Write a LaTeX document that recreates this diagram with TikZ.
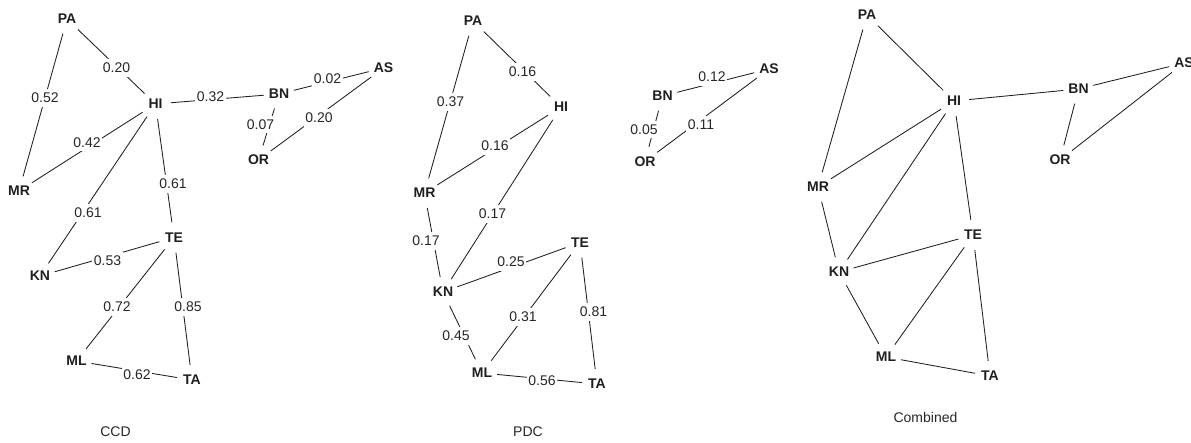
\documentclass[tikz,border=0pt]{standalone}
\usepackage{fontspec}
\setmainfont{Liberation Sans}
\begin{document}
\begin{tikzpicture}[x=1pt,y=-1pt,
  lang/.style={circle, inner sep=0pt, minimum size=30pt,
    font=\fontsize{14}{16}\selectfont\bfseries, text=black!88},
  wl/.style={rectangle, fill=white, inner xsep=1.5pt, inner ysep=4pt,
    font=\fontsize{14}{16}\selectfont, text=black!85},
  captext/.style={font=\fontsize{14}{16}\selectfont, text=black!85},
  edge/.style={draw=black!88, line width=0.85pt}]
\useasboundingbox (0,0) rectangle (1191,443);

% ---------------- CCD ----------------
\node[lang] (c-PA) at (67,19)  {PA};
\node[lang] (c-HI) at (155.5,104) {HI};
\node[lang] (c-BN) at (279,94) {BN};
\node[lang] (c-AS) at (383.5,68) {AS};
\node[lang] (c-OR) at (258.5,160) {OR};
\node[lang] (c-MR) at (19,191) {MR};
\node[lang] (c-TE) at (174,237.5) {TE};
\node[lang] (c-KN) at (40,276) {KN};
\node[lang] (c-ML) at (76.5,361) {ML};
\node[lang] (c-TA) at (192,380) {TA};
\node[captext] (c-cap) at (115.5,432) {CCD};

\draw[edge] (c-PA) -- (c-HI);
\draw[edge] (c-PA) -- (c-MR);
\draw[edge] (c-HI) -- (c-BN);
\draw[edge] (c-BN) -- (c-AS);
\draw[edge] (c-BN) -- (c-OR);
\draw[edge] (c-AS) -- (c-OR);
\draw[edge] (c-HI) -- (c-MR);
\draw[edge] (c-HI) -- (c-KN);
\draw[edge] (c-HI) -- (c-TE);
\draw[edge] (c-KN) -- (c-TE);
\draw[edge] (c-TE) -- (c-ML);
\draw[edge] (c-TE) -- (c-TA);
\draw[edge] (c-ML) -- (c-TA);

\node[wl] (c-w1) at (116.5,68) {0.20};
\node[wl] (c-w2) at (45,98) {0.52};
\node[wl] (c-w3) at (210.5,97) {0.32};
\node[wl] (c-w4) at (327.5,79) {0.02};
\node[wl] (c-w5) at (260.5,124.5) {0.07};
\node[wl] (c-w6) at (319,118) {0.20};
\node[wl] (c-w7) at (87,142.5) {0.42};
\node[wl] (c-w8) at (88,213) {0.61};
\node[wl] (c-w9) at (173,184) {0.61};
\node[wl] (c-w10) at (107.5,261) {0.53};
\node[wl] (c-w11) at (117,307) {0.72};
\node[wl] (c-w12) at (188,307) {0.85};
\node[wl] (c-w13) at (137,375) {0.62};

% ---------------- PDC ----------------
\node[lang] (p-PA) at (473,21)  {PA};
\node[lang] (p-HI) at (561,107) {HI};
\node[lang] (p-MR) at (424.5,193) {MR};
\node[lang] (p-KN) at (443,292) {KN};
\node[lang] (p-TE) at (580,242.5) {TE};
\node[lang] (p-ML) at (482,373) {ML};
\node[lang] (p-TA) at (597,384) {TA};
\node[lang] (p-BN) at (662.5,96) {BN};
\node[lang] (p-AS) at (769,69) {AS};
\node[lang] (p-OR) at (645,161.5) {OR};
\node[captext] (p-cap) at (528,432) {PDC};

\draw[edge] (p-PA) -- (p-HI);
\draw[edge] (p-PA) -- (p-MR);
\draw[edge] (p-HI) -- (p-MR);
\draw[edge] (p-HI) -- (p-KN);
\draw[edge] (p-MR) -- (p-KN);
\draw[edge] (p-KN) -- (p-TE);
\draw[edge] (p-KN) -- (p-ML);
\draw[edge] (p-TE) -- (p-ML);
\draw[edge] (p-TE) -- (p-TA);
\draw[edge] (p-ML) -- (p-TA);
\draw[edge] (p-BN) -- (p-AS);
\draw[edge] (p-BN) -- (p-OR);
\draw[edge] (p-AS) -- (p-OR);

\node[wl] (p-w1) at (522.5,72) {0.16};
\node[wl] (p-w2) at (450.5,102) {0.37};
\node[wl] (p-w3) at (495,146) {0.16};
\node[wl] (p-w4) at (492.5,214) {0.17};
\node[wl] (p-w5) at (426,241) {0.17};
\node[wl] (p-w6) at (511,262) {0.25};
\node[wl] (p-w7) at (456,336) {0.45};
\node[wl] (p-w8) at (523,317) {0.31};
\node[wl] (p-w9) at (593.5,312) {0.81};
\node[wl] (p-w10) at (542,381) {0.56};
\node[wl] (p-w11) at (712,77) {0.12};
\node[wl] (p-w12) at (644,129.5) {0.05};
\node[wl] (p-w13) at (701,125) {0.11};

% ---------------- Combined ----------------
\node[lang] (m-PA) at (867,15)  {PA};
\node[lang] (m-HI) at (954,101) {HI};
\node[lang] (m-BN) at (1078.5,89) {BN};
\node[lang] (m-AS) at (1184,63) {AS};
\node[lang] (m-OR) at (1060,160) {OR};
\node[lang] (m-MR) at (818,187) {MR};
\node[lang] (m-TE) at (973,235) {TE};
\node[lang] (m-KN) at (839,272) {KN};
\node[lang] (m-ML) at (886,357) {ML};
\node[lang] (m-TA) at (990,376) {TA};
\node[captext] (m-cap) at (925.5,417) {Combined};

\draw[edge] (m-PA) -- (m-HI);
\draw[edge] (m-PA) -- (m-MR);
\draw[edge] (m-HI) -- (m-BN);
\draw[edge] (m-BN) -- (m-AS);
\draw[edge] (m-BN) -- (m-OR);
\draw[edge] (m-AS) -- (m-OR);
\draw[edge] (m-HI) -- (m-MR);
\draw[edge] (m-HI) -- (m-KN);
\draw[edge] (m-HI) -- (m-TE);
\draw[edge] (m-MR) -- (m-KN);
\draw[edge] (m-KN) -- (m-TE);
\draw[edge] (m-KN) -- (m-ML);
\draw[edge] (m-TE) -- (m-ML);
\draw[edge] (m-TE) -- (m-TA);
\draw[edge] (m-ML) -- (m-TA);
\end{tikzpicture}
\end{document}
